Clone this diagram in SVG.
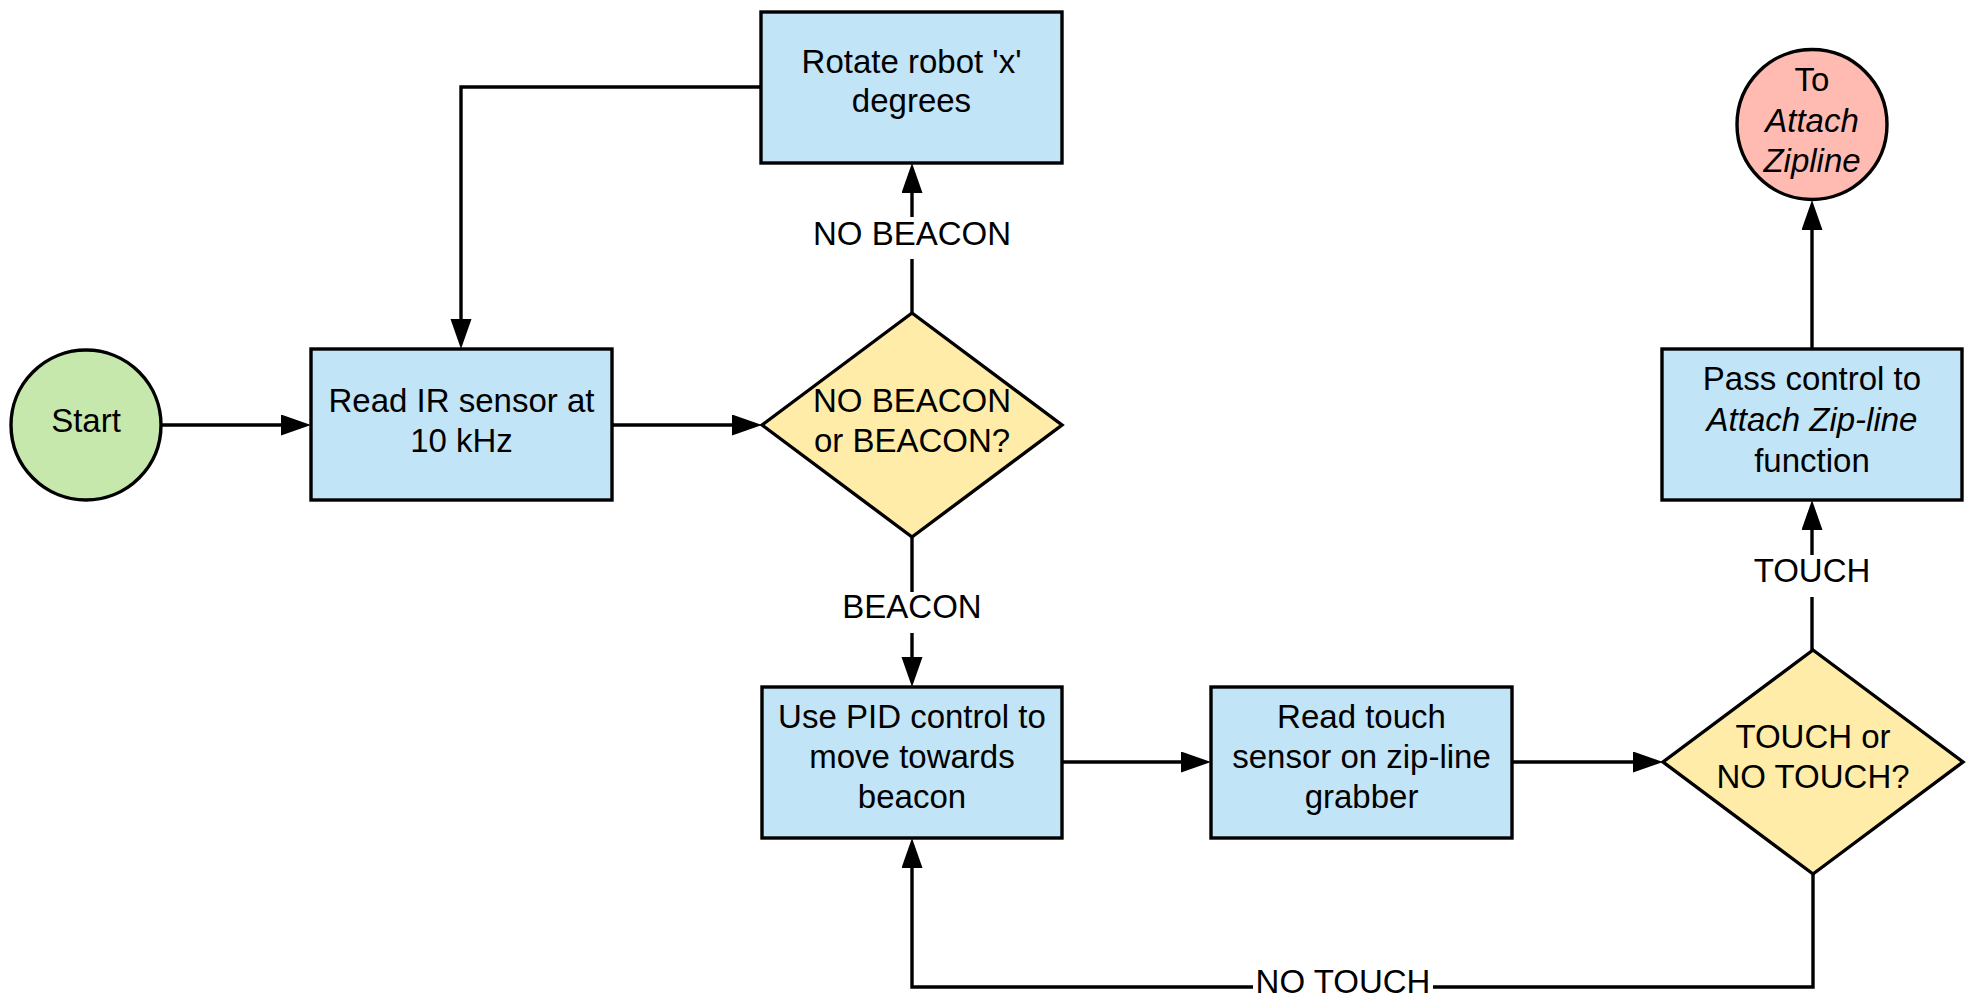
<svg xmlns="http://www.w3.org/2000/svg" width="1973" height="1005" viewBox="0 0 1973 1005">
<style>
text{font-family:"Liberation Sans",Arial,sans-serif;font-size:33px;fill:#000;text-anchor:middle}
.it{font-style:italic}
.box{fill:#C1E4F7;stroke:#000;stroke-width:3.4}
.dec{fill:#FFECA9;stroke:#000;stroke-width:3.4}
.start{fill:#C7E8AC;stroke:#000;stroke-width:3.4}
.end{fill:#FFBBB1;stroke:#000;stroke-width:3.4}
.ln{fill:none;stroke:#000;stroke-width:3.4;marker-end:url(#ah)}
.lbg{fill:#fff}
</style>
<defs>
<marker id="ah" markerUnits="userSpaceOnUse" markerWidth="31" markerHeight="22" refX="0" refY="10.5" orient="auto">
<path d="M0,0 L30,10.5 L0,21 Z" fill="#000"/>
</marker>
</defs>
<rect width="1973" height="1005" fill="#fff"/>
<g id="connectors">
<path class="ln" d="M161,425 H281"/>
<path class="ln" d="M612,425 H732"/>
<path class="ln" d="M912,313 V193"/>
<path class="ln" d="M761,87 H461 V319"/>
<path class="ln" d="M912,537 V657"/>
<path class="ln" d="M1062,762 H1181"/>
<path class="ln" d="M1512,762 H1633"/>
<path class="ln" d="M1812,650 V530"/>
<path class="ln" d="M1812,349 V230"/>
<path class="ln" d="M1813,874 V987 H912 V868"/>
<g id="label-nobeacon"><rect class="lbg" x="808" y="217" width="208" height="42"/><text x="912" y="245">NO BEACON</text></g>
<g id="label-beacon"><rect class="lbg" x="838" y="592" width="148" height="41"/><text x="912" y="618">BEACON</text></g>
<g id="label-touch"><rect class="lbg" x="1750" y="555" width="124" height="42"/><text x="1812" y="582">TOUCH</text></g>
<g id="label-notouch"><rect class="lbg" x="1253" y="966" width="180" height="42"/><text x="1343" y="993">NO TOUCH</text></g>
</g>
<g id="start">
<circle class="start" cx="86" cy="425" r="75"/>
<text x="86" y="432">Start</text>
</g>
<g id="read-ir">
<rect class="box" x="311" y="349" width="301" height="151"/>
<text x="461.5" y="412">Read IR sensor at</text>
<text x="461.5" y="452">10 kHz</text>
</g>
<g id="rotate">
<rect class="box" x="761" y="12" width="301" height="151"/>
<text x="911.5" y="73">Rotate robot 'x'</text>
<text x="911.5" y="112">degrees</text>
</g>
<g id="beacon-decision">
<polygon class="dec" points="912,313 1062,425 912,537 762,425"/>
<text x="912" y="412">NO BEACON</text>
<text x="912" y="452">or BEACON?</text>
</g>
<g id="pid">
<rect class="box" x="762" y="687" width="300" height="151"/>
<text x="912" y="728">Use PID control to</text>
<text x="912" y="768">move towards</text>
<text x="912" y="808">beacon</text>
</g>
<g id="read-touch">
<rect class="box" x="1211" y="687" width="301" height="151"/>
<text x="1361.5" y="728">Read touch</text>
<text x="1361.5" y="768">sensor on zip-line</text>
<text x="1361.5" y="808">grabber</text>
</g>
<g id="touch-decision">
<polygon class="dec" points="1813,650 1963,762 1813,874 1663,762"/>
<text x="1813" y="748">TOUCH or</text>
<text x="1813" y="788">NO TOUCH?</text>
</g>
<g id="pass-control">
<rect class="box" x="1662" y="349" width="300" height="151"/>
<text x="1812" y="390">Pass control to</text>
<text x="1812" y="431" class="it">Attach Zip-line</text>
<text x="1812" y="472">function</text>
</g>
<g id="to-attach">
<circle class="end" cx="1812" cy="124.5" r="75"/>
<text x="1812" y="91">To</text>
<text x="1812" y="132" class="it">Attach</text>
<text x="1812" y="172" class="it">Zipline</text>
</g>
</svg>
